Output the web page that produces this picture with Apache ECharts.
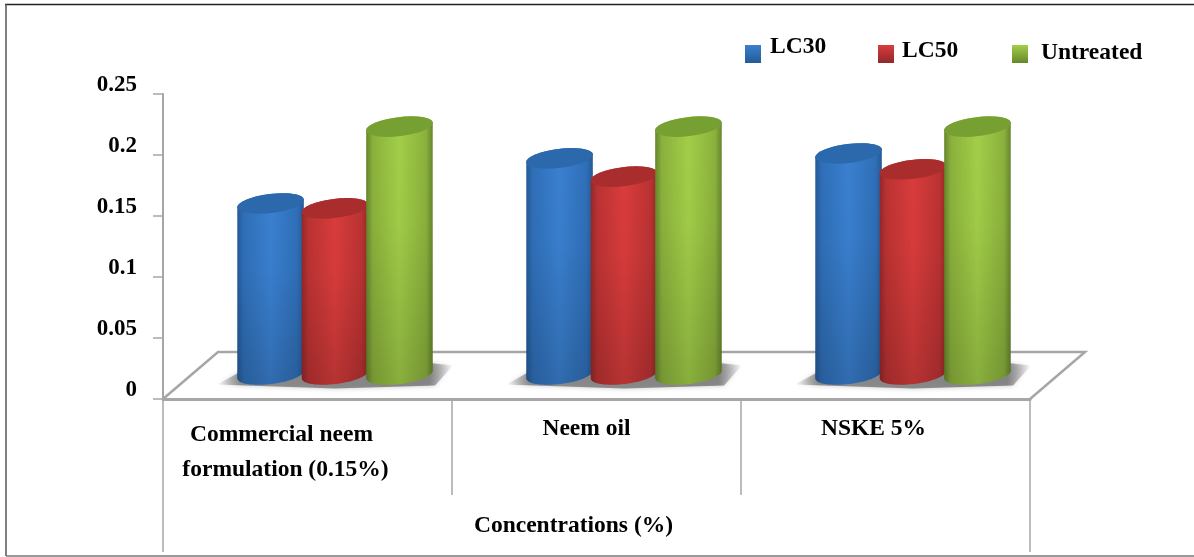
<!DOCTYPE html>
<html>
<head>
<meta charset="utf-8">
<style>
  html, body { margin: 0; padding: 0; background: #fff; }
  #chart { width: 1194px; height: 557px; }
</style>
<script src="https://cdn.jsdelivr.net/npm/echarts@6/dist/echarts.min.js"></script>
</head>
<body>
<div id="chart"></div>
<script>
const categories = ['Commercial neem\nformulation (0.15%)', 'Neem oil', 'NSKE 5%']
const groupTitle = ['Concentrations (%)']
const lc30 = [0.141, 0.178, 0.182]
const lc50 = [0.137, 0.163, 0.169]
const untreated = [0.204, 0.204, 0.204]

const FONT = '"Liberation Serif", "Times New Roman", serif'
const GREY = '#a6a6a6'
// the floor runs back this far, the cylinders stand half way along it
const DEPTH_X = 55
const DEPTH_Y = -47
const BAR_RATIO = 0.116
const STEP_RATIO = 0.223

const myChart = echarts.init(document.getElementById('chart'), null, { renderer: 'canvas' })

function hGrad (c) {
  return new echarts.graphic.LinearGradient(0, 0, 1, 0, [
    { offset: 0, color: c.edge },
    { offset: 0.1, color: c.side },
    { offset: 0.5, color: c.mid },
    { offset: 0.9, color: c.side },
    { offset: 1, color: c.edge }
  ])
}

function ellipsePoints (cx, cy, a, b, from, to) {
  const tilt = -7 * Math.PI / 180
  const pts = []
  for (let i = 0; i <= 32; i++) {
    const t = from + (to - from) * i / 32
    pts.push([
      cx + a * Math.cos(t) * Math.cos(tilt) - b * Math.sin(t) * Math.sin(tilt),
      cy + a * Math.cos(t) * Math.sin(tilt) + b * Math.sin(t) * Math.cos(tilt)
    ])
  }
  return pts
}

function cylinderSeries (name, values, step, colors) {
  return {
    name: name,
    type: 'custom',
    xAxisIndex: 0,
    yAxisIndex: 0,
    clip: false,
    z: 5,
    itemStyle: {
      color: new echarts.graphic.LinearGradient(0, 0, 0, 1, [
        { offset: 0, color: colors.mid },
        { offset: 1, color: colors.edge }
      ])
    },
    encode: { x: 0, y: 1 },
    data: values.map((v, i) => [i, v]),
    renderItem: function (params, api) {
      const band = api.size([1, 0])[0]
      const top = api.coord([api.value(0), api.value(1)])
      const base = api.coord([api.value(0), 0])
      const cx = top[0] + DEPTH_X / 2 + step * band * STEP_RATIO
      const a = band * BAR_RATIO
      const b = 9.5
      const topY = top[1] + DEPTH_Y / 2
      const baseY = base[1] + DEPTH_Y / 2 - 1
      const outline = ellipsePoints(cx, topY, a, b, Math.PI, 2 * Math.PI)
        .concat(ellipsePoints(cx, baseY, a, b, 0, Math.PI))
      return {
        type: 'group',
        children: [
          { type: 'polygon', shape: { points: outline }, style: { fill: hGrad(colors) } },
          {
            type: 'polygon',
            shape: { points: outline },
            style: {
              fill: new echarts.graphic.LinearGradient(0, 0, 0, 1, [
                { offset: 0, color: 'rgba(0,0,0,0)' },
                { offset: 0.4, color: 'rgba(0,0,0,0.02)' },
                { offset: 1, color: 'rgba(0,0,0,0.16)' }
              ])
            }
          },
          {
            type: 'polygon',
            shape: { points: ellipsePoints(cx, topY, a, b, 0, 2 * Math.PI) },
            style: { fill: colors.cap }
          }
        ]
      }
    }
  }
}

function legendStyle (name, left, top, lift, gap) {
  return {
    data: [name],
    left: left,
    top: top,
    itemWidth: 16,
    itemHeight: 18,
    padding: 0,
    icon: 'rect',
    formatter: '{t|{name}}',
    textStyle: {
      rich: {
        t: {
          fontFamily: FONT,
          fontWeight: 'bold',
          fontSize: 23.5,
          color: '#000',
          padding: [0, 0, lift, gap]
        }
      }
    }
  }
}

const option = {
  animation: false,
  backgroundColor: '#fff',
  grid: { left: 163, right: 164, top: 94, bottom: 158, containLabel: false },
  legend: [
    legendStyle('LC30', 745, 35, 14, 4),
    legendStyle('LC50', 878, 39, 6, 3),
    legendStyle('Untreated', 1012, 41, 2, 8)
  ],
  xAxis: [
    {
      type: 'category',
      data: categories,
      position: 'bottom',
      axisLine: { show: true, onZero: false, lineStyle: { color: GREY, width: 3 } },
      axisTick: { show: true, length: 96, lineStyle: { color: GREY, width: 1.5 } },
      axisLabel: {
        margin: 13,
        interval: 0,
        color: '#000',
        formatter: function (value, index) {
          return value.split('\n').map((line, j) => '{c' + index + (j === 0 ? 'a' : 'b') + '|' + line + '}').join('\n')
        },
        rich: {
          c0a: { fontFamily: FONT, fontWeight: 'bold', fontSize: 23.5, lineHeight: 46, padding: [0, 52, 0, 0] },
          c0b: { fontFamily: FONT, fontWeight: 'bold', fontSize: 23.5, lineHeight: 24, padding: [0, 44, 0, 0] },
          c1a: { fontFamily: FONT, fontWeight: 'bold', fontSize: 23.5, lineHeight: 34, padding: [0, 20, 0, 0] },
          c2a: { fontFamily: FONT, fontWeight: 'bold', fontSize: 23.5, lineHeight: 34, padding: [0, 24, 0, 0] }
        }
      }
    },
    {
      type: 'category',
      data: groupTitle,
      position: 'bottom',
      axisLine: { show: false, onZero: false },
      axisTick: { show: true, length: 153, lineStyle: { color: GREY, width: 1.5 } },
      axisLabel: {
        margin: 115,
        color: '#000',
        fontFamily: FONT,
        fontWeight: 'bold',
        fontSize: 23.5,
        padding: [0, 46, 0, 0]
      }
    }
  ],
  yAxis: {
    type: 'value',
    min: 0,
    max: 0.25,
    interval: 0.05,
    splitLine: { show: false },
    axisLine: { show: true, lineStyle: { color: GREY, width: 2 } },
    axisTick: { show: true, length: 10, lineStyle: { color: GREY, width: 1.5 } },
    axisLabel: {
      margin: 26,
      color: '#000',
      fontFamily: FONT,
      fontWeight: 'bold',
      fontSize: 23,
      verticalAlign: 'bottom',
      lineHeight: 18
    }
  },
  series: [
    {
      // floor of the 3d box and the soft shadow under each group
      type: 'custom',
      xAxisIndex: 0,
      yAxisIndex: 0,
      silent: true,
      clip: false,
      z: 1,
      encode: { x: 0 },
      data: categories.map((c, i) => [i]),
      renderItem: function (params, api) {
        const cs = params.coordSys
        const base = api.coord([api.value(0), 0])
        const cx = base[0] + DEPTH_X / 2
        const by = base[1] + DEPTH_Y / 2
        const children = [{
          type: 'polygon',
          shape: {
            points: [
              [cx - 118, by + 9], [cx - 96, by - 3], [cx + 90, by - 13],
              [cx + 118, by - 10], [cx + 100, by + 10], [cx, by + 13]
            ]
          },
          style: {
            fill: new echarts.graphic.LinearGradient(0, 0, 1, 0, [
              { offset: 0, color: 'rgba(120,120,120,0)' },
              { offset: 0.1, color: 'rgba(120,120,120,0.8)' },
              { offset: 0.9, color: 'rgba(120,120,120,0.85)' },
              { offset: 1, color: 'rgba(120,120,120,0)' }
            ]),
            shadowBlur: 5,
            shadowColor: 'rgba(120,120,120,0.5)'
          }
        }]
        if (params.dataIndex === 0) {
          children.unshift({
            type: 'polyline',
            shape: {
              points: [
                [cs.x, cs.y + cs.height],
                [cs.x + DEPTH_X, cs.y + cs.height + DEPTH_Y],
                [cs.x + cs.width + DEPTH_X, cs.y + cs.height + DEPTH_Y],
                [cs.x + cs.width, cs.y + cs.height]
              ]
            },
            style: { fill: null, stroke: GREY, lineWidth: 2.5 }
          })
        }
        return { type: 'group', children: children }
      }
    },
    cylinderSeries('LC30', lc30, -1, { edge: '#255a96', side: '#2f6fb8', mid: '#3a80d0', cap: '#2c68ac' }),
    cylinderSeries('LC50', lc50, 0, { edge: '#93282a', side: '#bb3232', mid: '#d93c3c', cap: '#a92d2d' }),
    cylinderSeries('Untreated', untreated, 1, { edge: '#66862c', side: '#8bb13c', mid: '#a2cf48', cap: '#76a032' })
  ],
  graphic: [
    { type: 'line', shape: { x1: 5, y1: 4.5, x2: 1194, y2: 4.5 }, style: { stroke: '#222', lineWidth: 1.5 } },
    { type: 'line', shape: { x1: 6, y1: 4, x2: 6, y2: 556 }, style: { stroke: '#555', lineWidth: 1.5 } },
    { type: 'line', shape: { x1: 6, y1: 556, x2: 1194, y2: 556 }, style: { stroke: '#777', lineWidth: 1.5 } }
  ]
}
myChart.setOption(option)
</script>
</body>
</html>
